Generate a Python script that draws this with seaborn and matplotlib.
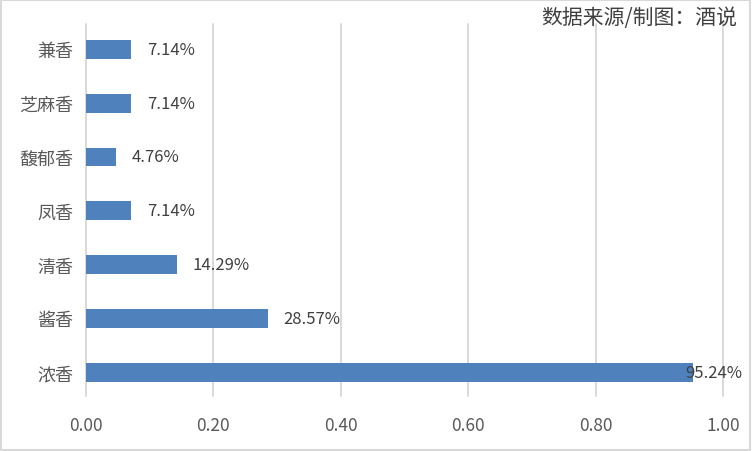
import matplotlib
matplotlib.use("Agg")
import matplotlib.pyplot as plt
import seaborn as sns
import pandas as pd
from matplotlib.patches import Rectangle

categories = ["兼香", "芝麻香", "馥郁香", "凤香", "清香", "酱香", "浓香"]
values = [0.0714, 0.0714, 0.0476, 0.0714, 0.1429, 0.2857, 0.9524]
labels = ["7.14%", "7.14%", "4.76%", "7.14%", "14.29%", "28.57%", "95.24%"]
xticks = [0.0, 0.2, 0.4, 0.6, 0.8, 1.0]
title = "数据来源/制图：酒说"

sns.set_theme(style="white")
plt.rcParams["font.family"] = ["Noto Sans CJK SC", "DejaVu Sans"]

df = pd.DataFrame({"cat": categories, "val": values})

fig = plt.figure(figsize=(7.52, 4.52), dpi=100)
top_px, bot_px = 23.4, 400.2
h_px = bot_px - top_px
ax = fig.add_axes([86/752, 1-bot_px/452, (723-86)/752, h_px/452])

sns.barplot(data=df, x="val", y="cat", order=categories, orient="h",
            color="#4F81BD", saturation=1, width=0.35, linewidth=0,
            ax=ax, zorder=3)

ax.set_xlim(0, 1.0)
ax.set_ylim(6.5, -0.5)
ax.set_xticks(xticks)
ax.set_xticklabels([f"{t:.2f}" for t in xticks], fontsize=12.5, color="#595959")
ax.set_yticks(range(len(categories)))
ax.set_yticklabels(categories, fontsize=13, color="#595959")
ax.tick_params(axis="x", length=0, pad=12)
ax.tick_params(axis="y", length=0, pad=9)
ax.set_xlabel("")
ax.set_ylabel("")
for s in ax.spines.values():
    s.set_visible(False)
ax.grid(False)
g_lo = (bot_px - 397) / h_px
g_hi = 1 - (25 - top_px) / h_px
for t in xticks:
    ax.axvline(t, ymin=g_lo, ymax=g_hi, color="#D9D9D9", linewidth=1.4,
               zorder=0, clip_on=False)

for i, (v, lab) in enumerate(zip(values, labels)):
    if v > 0.9:
        ax.annotate(lab, xy=(1.0, i), xytext=(14, 0), textcoords="offset points",
                    ha="right", va="center", fontsize=12, color="#404040",
                    annotation_clip=False)
    else:
        ax.annotate(lab, xy=(v, i), xytext=(11, 0), textcoords="offset points",
                    ha="left", va="center", fontsize=12, color="#404040")

fig.text(737/752, 1-18/452, title, ha="right", va="center", fontsize=15,
         color="#404040", fontweight="medium")

fig.patches.append(Rectangle((0.001, 0.002), 0.997, 0.995, transform=fig.transFigure,
                             fill=False, edgecolor="#D9D9D9", linewidth=1.5))

fig.savefig("out.png", dpi=100)
